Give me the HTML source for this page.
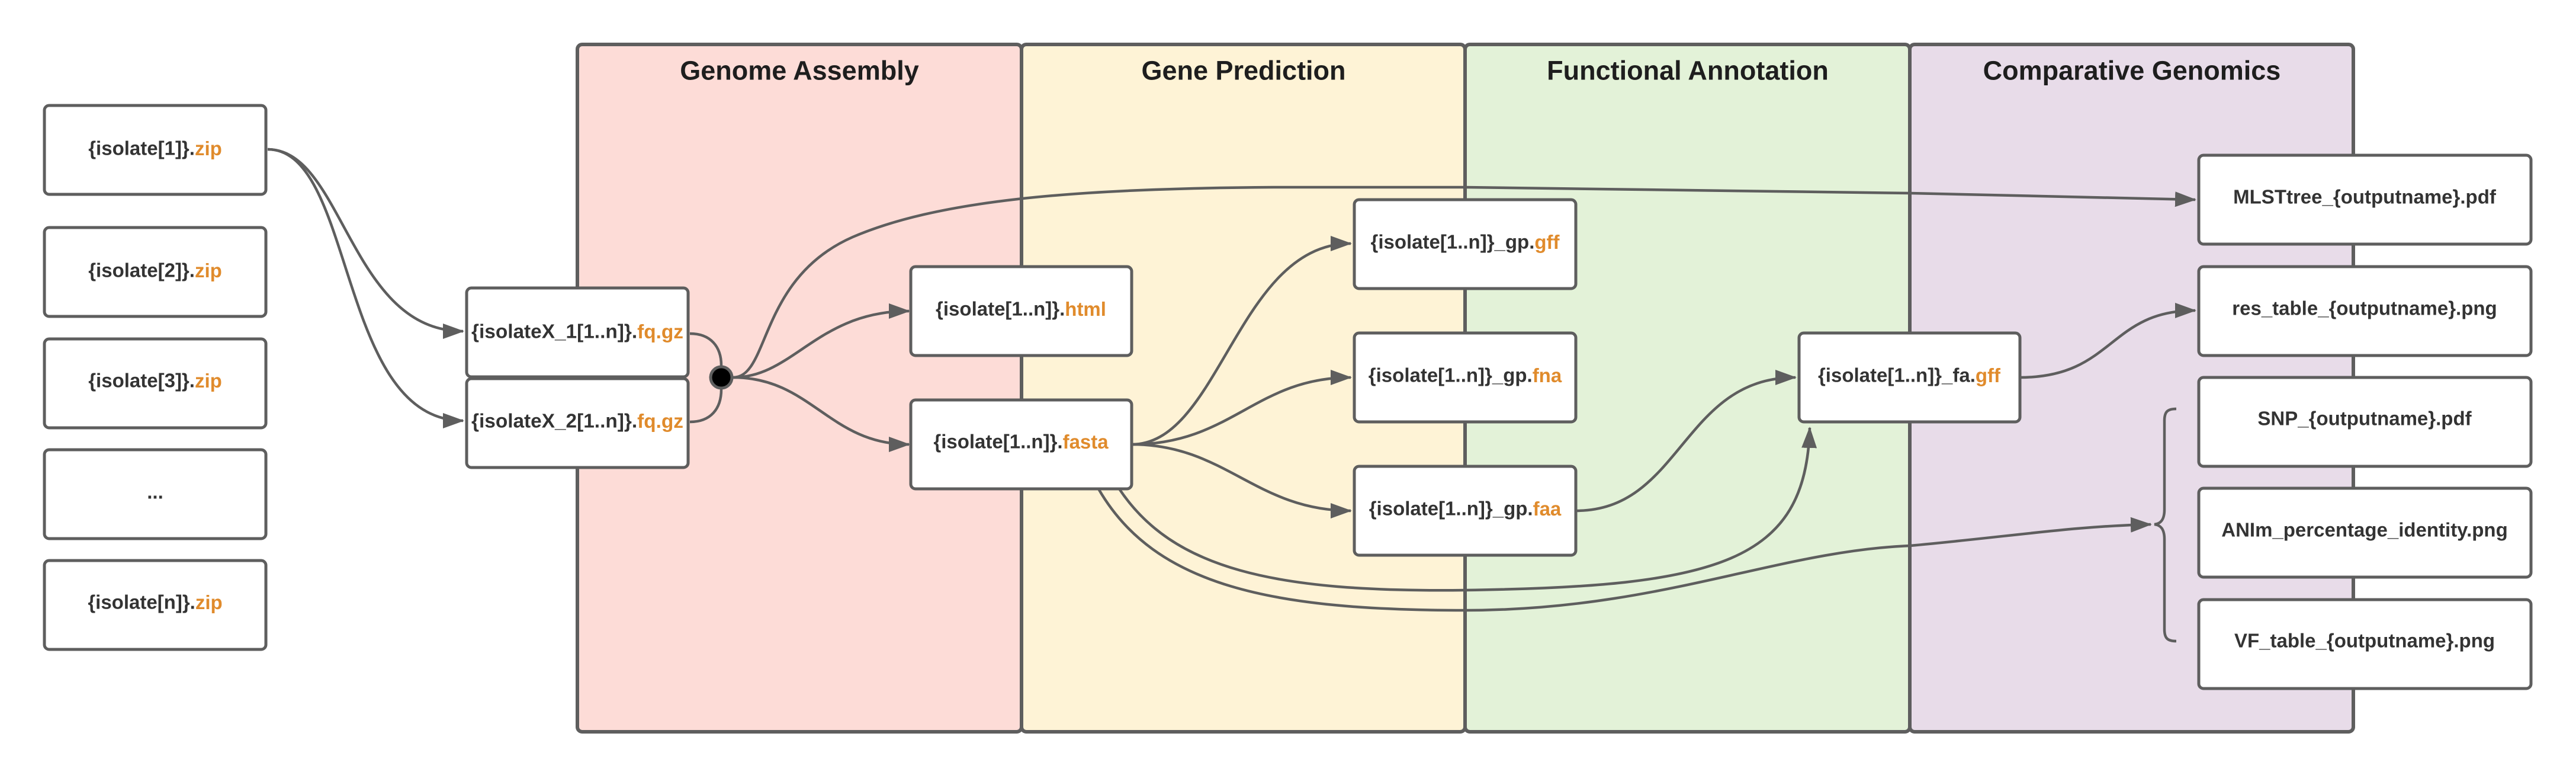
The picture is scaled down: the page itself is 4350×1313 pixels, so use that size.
<!DOCTYPE html>
<html><head><meta charset="utf-8"><style>
html,body{margin:0;padding:0;background:#fff;}
svg{display:block;}
text{font-family:"Liberation Sans",Arial,sans-serif;font-weight:bold;}
.t{font-size:33px;fill:#333;text-anchor:middle;dominant-baseline:central;}
.o{fill:#e08b2c;}
.h{font-size:45px;fill:#1e1e1e;text-anchor:middle;dominant-baseline:central;}
.b{fill:#fff;stroke:#5e5e5e;stroke-width:5;}
.c{fill:none;stroke:#5e5e5e;stroke-width:4.5;}
</style></head><body>
<svg width="4350" height="1313" viewBox="0 0 4350 1313" xmlns="http://www.w3.org/2000/svg">
<defs>
<marker id="a" markerUnits="userSpaceOnUse" markerWidth="36" markerHeight="26" refX="34" refY="13" orient="auto">
<path d="M0,0 L36,13 L0,26 Z" fill="#5e5e5e"/>
</marker>
</defs>
<rect x="975" y="75" width="750" height="1160" rx="8" fill="#fddcd7" stroke="#5e5e5e" stroke-width="6"/>
<rect x="1725" y="75" width="749" height="1160" rx="8" fill="#fef3d6" stroke="#5e5e5e" stroke-width="6"/>
<rect x="2474" y="75" width="751" height="1160" rx="8" fill="#e3f2d8" stroke="#5e5e5e" stroke-width="6"/>
<rect x="3225" y="75" width="749" height="1160" rx="8" fill="#e8dce9" stroke="#5e5e5e" stroke-width="6"/>
<text class="h" x="1350" y="119">Genome Assembly</text>
<text class="h" x="2100" y="119">Gene Prediction</text>
<text class="h" x="2850" y="119">Functional Annotation</text>
<text class="h" x="3600" y="119">Comparative Genomics</text>

<path class="c" d="M452,252 C580,252 590,559 782,559" marker-end="url(#a)"/>
<path class="c" d="M452,252 C600,252 570,710 782,710" marker-end="url(#a)"/>
<path class="c" d="M1165,563 C1200,563 1218,585 1218,617"/>
<path class="c" d="M1165,712 C1200,712 1218,690 1218,657"/>
<path class="c" d="M1238,637 C1340,637 1380,525 1535,525" marker-end="url(#a)"/>
<path class="c" d="M1238,637 C1370,637 1400,750 1535,750" marker-end="url(#a)"/>
<path class="c" d="M1238,637 C1300,637 1280,470 1440,400 C1580,340 1800,318 2150,316 L2474,316 L3225,326 L3707,337" marker-end="url(#a)"/>
<path class="c" d="M1911,750 C2060,750 2090,411 2281,411" marker-end="url(#a)"/>
<path class="c" d="M1911,750 C2080,750 2120,637 2281,637" marker-end="url(#a)"/>
<path class="c" d="M1911,750 C2070,750 2120,862 2281,862" marker-end="url(#a)"/>
<path class="c" d="M2661,862 C2840,862 2840,637 3032,637" marker-end="url(#a)"/>
<path class="c" d="M3411,637 C3570,637 3560,524 3707,524" marker-end="url(#a)"/>
<path class="c" d="M1890,825 C1980,960 2150,1000 2474,996 C2900,990 3050,950 3056,722" marker-end="url(#a)"/>
<path class="c" d="M1855,825 C1950,990 2150,1030 2474,1030 C2800,1030 3000,930 3225,921 C3400,905 3500,888 3632,885" marker-end="url(#a)"/>
<path class="c" d="M3675,690 C3660,690 3655,695 3655,710 L3655,860 C3655,878 3648,884 3638,885 C3648,886 3655,892 3655,910 L3655,1062 C3655,1077 3660,1082 3675,1082" stroke-width="5"/>
<circle cx="1218" cy="637" r="18" fill="#000" stroke="#5e5e5e" stroke-width="5"/>

<rect class="b" x="75" y="178" width="374" height="150" rx="8"/>
<text class="t" x="262" y="250">{isolate[1]}.<tspan class="o">zip</tspan></text>
<rect class="b" x="75" y="384" width="374" height="150" rx="8"/>
<text class="t" x="262" y="456">{isolate[2]}.<tspan class="o">zip</tspan></text>
<rect class="b" x="75" y="572" width="374" height="150" rx="8"/>
<text class="t" x="262" y="642">{isolate[3]}.<tspan class="o">zip</tspan></text>
<rect class="b" x="75" y="759" width="374" height="150" rx="8"/>
<text class="t" x="262" y="830">...</text>
<rect class="b" x="75" y="946" width="374" height="150" rx="8"/>
<text class="t" x="262" y="1016">{isolate[n]}.<tspan class="o">zip</tspan></text>

<rect class="b" x="788" y="486" width="374" height="150" rx="8"/>
<text class="t" x="975" y="559" textLength="358" lengthAdjust="spacingAndGlyphs">{isolateX_1[1..n]}.<tspan class="o">fq.gz</tspan></text>
<rect class="b" x="788" y="639" width="374" height="150" rx="8"/>
<text class="t" x="975" y="710" textLength="358" lengthAdjust="spacingAndGlyphs">{isolateX_2[1..n]}.<tspan class="o">fq.gz</tspan></text>

<rect class="b" x="1538" y="450" width="373" height="150" rx="8"/>
<text class="t" x="1724" y="521">{isolate[1..n]}.<tspan class="o">html</tspan></text>
<rect class="b" x="1538" y="675" width="373" height="150" rx="8"/>
<text class="t" x="1724" y="745">{isolate[1..n]}.<tspan class="o">fasta</tspan></text>

<rect class="b" x="2287" y="337" width="374" height="150" rx="8"/>
<text class="t" x="2474" y="408">{isolate[1..n]}_gp.<tspan class="o">gff</tspan></text>
<rect class="b" x="2287" y="562" width="374" height="150" rx="8"/>
<text class="t" x="2474" y="633">{isolate[1..n]}_gp.<tspan class="o">fna</tspan></text>
<rect class="b" x="2287" y="787" width="374" height="150" rx="8"/>
<text class="t" x="2474" y="858">{isolate[1..n]}_gp.<tspan class="o">faa</tspan></text>

<rect class="b" x="3038" y="562" width="373" height="150" rx="8"/>
<text class="t" x="3224" y="633">{isolate[1..n]}_fa.<tspan class="o">gff</tspan></text>

<rect class="b" x="3713" y="262" width="561" height="150" rx="8"/>
<text class="t" x="3993" y="332">MLSTtree_{outputname}.pdf</text>
<rect class="b" x="3713" y="450" width="561" height="150" rx="8"/>
<text class="t" x="3993" y="520">res_table_{outputname}.png</text>
<rect class="b" x="3713" y="637" width="561" height="150" rx="8"/>
<text class="t" x="3993" y="706">SNP_{outputname}.pdf</text>
<rect class="b" x="3713" y="824" width="561" height="150" rx="8"/>
<text class="t" x="3993" y="894">ANIm_percentage_identity.png</text>
<rect class="b" x="3713" y="1012" width="561" height="150" rx="8"/>
<text class="t" x="3993" y="1081">VF_table_{outputname}.png</text>
</svg>
</body></html>
